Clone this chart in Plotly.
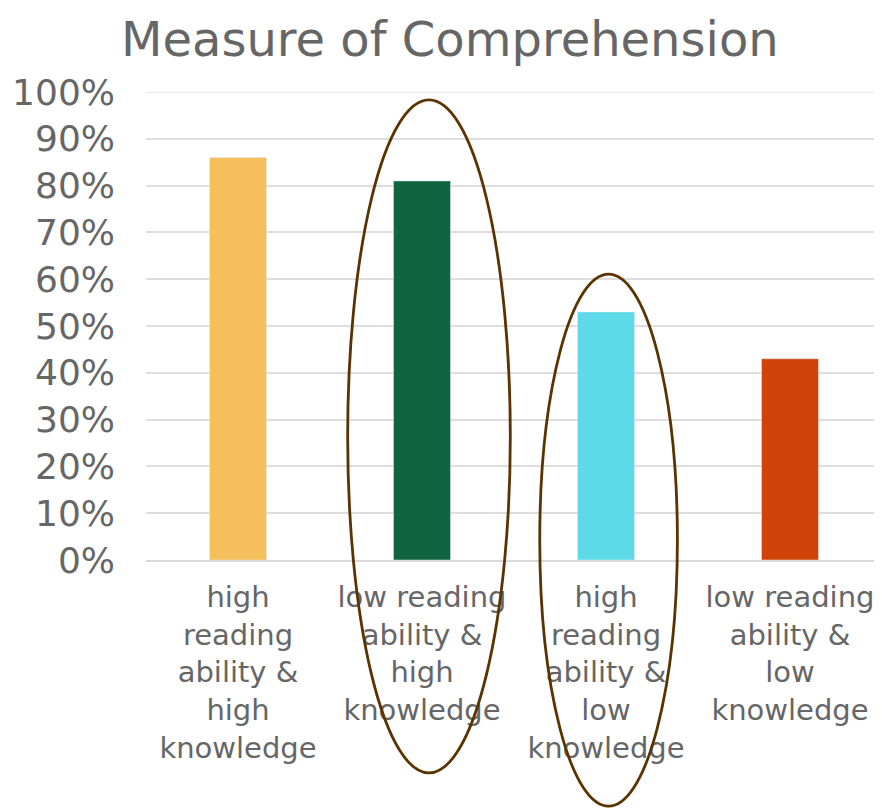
import plotly.graph_objects as go

categories = [
    "high<br>reading<br>ability &<br>high<br>knowledge",
    "low reading<br>ability &<br>high<br>knowledge",
    "high<br>reading<br>ability &<br>low<br>knowledge",
    "low reading<br>ability &<br>low<br>knowledge",
]
comprehension = [86, 81, 53, 43]
bar_colors = ["#F5BF5C", "#106440", "#5DD9E8", "#D04308"]
y_ticks = list(range(0, 101, 10))
y_tick_labels = [f"{v}%" for v in y_ticks]

# circled groups, in paper coords (they spill outside the plot area)
highlights = [
    dict(x0=0.274, x1=0.495, y0=-0.455, y1=0.983),
    dict(x0=0.535, x1=0.722, y0=-0.526, y1=0.611),
]

fig = go.Figure(
    go.Bar(
        x=categories,
        y=comprehension,
        marker_color=bar_colors,
        width=0.31,
    )
)

# top gridline gets dropped at the plot edge, so draw it back in
fig.add_hline(y=y_ticks[-1], line=dict(color="#DDDDDD", width=1.5), layer="below")

for h in highlights:
    fig.add_shape(
        type="circle",
        xref="paper",
        yref="paper",
        line=dict(color="#5A3300", width=2.8),
        **h,
    )

# page body has an 8px margin, so everything is nudged up/left by 8
fig.update_layout(
    title=dict(
        text="Measure of Comprehension",
        x=0.501,
        xanchor="center",
        y=0.961,
        yanchor="middle",
        font=dict(size=48, color="#666666"),
    ),
    font=dict(family="DejaVu Sans", color="#666666"),
    width=882,
    height=808,
    paper_bgcolor="white",
    plot_bgcolor="white",
    margin=dict(l=138, r=8, t=84, b=256),
    showlegend=False,
)

fig.update_yaxes(
    range=[0, 100],
    tickvals=y_ticks,
    ticktext=y_tick_labels,
    tickfont=dict(size=36, color="#666666"),
    ticklabelstandoff=30,
    showgrid=True,
    gridcolor="#DDDDDD",
    gridwidth=1.5,
    zeroline=False,
    automargin=False,
)

fig.update_xaxes(
    tickfont=dict(size=29, color="#666666"),
    ticklabelstandoff=10,
    showline=True,
    linecolor="#D9D9D9",
    linewidth=2,
    tickangle=0,
    automargin=False,
)

fig.write_html("out.html")
